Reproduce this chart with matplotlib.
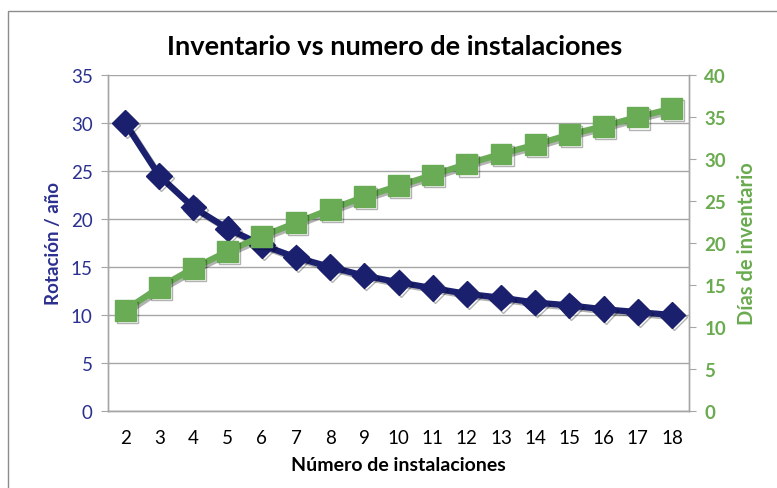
import matplotlib
matplotlib.use("Agg")
import matplotlib.pyplot as plt
import matplotlib.patheffects as pe
from matplotlib.patches import Rectangle

instalaciones = [2, 3, 4, 5, 6, 7, 8, 9, 10, 11, 12, 13, 14, 15, 16, 17, 18]
rotacion = [30.0, 24.5, 21.2, 19.0, 17.3, 16.0, 15.0, 14.1, 13.4, 12.8, 12.2,
            11.8, 11.3, 11.0, 10.6, 10.3, 10.0]
dias = [12.0, 14.7, 17.0, 19.0, 20.8, 22.4, 24.0, 25.5, 26.8, 28.1, 29.4,
        30.6, 31.7, 32.9, 33.9, 35.0, 36.0]
left_ticks = [0, 5, 10, 15, 20, 25, 30, 35]
right_ticks = [0, 5, 10, 15, 20, 25, 30, 35, 40]

plt.rcParams['font.family'] = ['Lato', 'DejaVu Sans']

W, H = 777, 489
fig = plt.figure(figsize=(W / 100, H / 100), dpi=100)
fig.patch.set_facecolor('white')

# outer chart frame
fig.patches.append(Rectangle((8 / W, -0.1), 1.2, (H - 12) / H + 0.1,
                             transform=fig.transFigure, fill=False,
                             edgecolor='#8C8C8C', linewidth=1.0))

ax = fig.add_axes([108 / W, 1 - 412 / H, (689 - 108) / W, (412 - 76) / H])
ax2 = ax.twinx()

navy = '#1A1F6E'
navy_txt = '#2B3090'
green = '#6AAB55'
green_txt = '#6AAB4F'
grid = '#A6A6A6'

shadow = [pe.SimpleLineShadow(offset=(1.5, -1.5), shadow_color='black', alpha=0.3), pe.Normal()]

ax.plot(instalaciones, rotacion, color=navy, linewidth=4.5, marker='D',
        markersize=13, markeredgecolor=navy, path_effects=shadow, zorder=3)
ax2.plot(instalaciones, dias, color=green, linewidth=4.5, marker='s',
         markersize=15, markeredgecolor=green, path_effects=shadow, zorder=3)

ax.set_xlim(1.5, 18.5)
ax.set_ylim(0, 35)
ax2.set_ylim(0, 40)
ax.set_xticks(instalaciones)
ax.set_xticklabels([str(v) for v in instalaciones])
ax.set_yticks(left_ticks)
ax2.set_yticks(right_ticks)

ax.yaxis.grid(True, color=grid, linewidth=1.0)
ax.set_axisbelow(True)

for a in (ax, ax2):
    a.spines['top'].set_visible(False)
    for s in ('left', 'bottom', 'right'):
        a.spines[s].set_color(grid)
        a.spines[s].set_linewidth(1.0)

ax.tick_params(axis='x', length=0, pad=13, labelsize=13.5, labelcolor='black')
ax.tick_params(axis='y', length=5, color=grid, direction='out', pad=6,
               labelsize=13.5, labelcolor=navy_txt)
ax2.tick_params(axis='y', length=5, color=grid, direction='out', pad=6,
                labelsize=13.5, labelcolor=green_txt)
for lbl in ax2.get_yticklabels():
    lbl.set_fontweight('bold')

ax.set_xlabel('Número de instalaciones', fontsize=14, fontweight='bold',
              color='black', labelpad=7)
ax.set_ylabel('Rotación / año', fontsize=13.5, fontweight='bold',
              color=navy_txt, labelpad=6)
ax2.set_ylabel('Días de inventario', fontsize=14.5, fontweight='bold',
               color=green_txt, labelpad=8)

fig.text(395 / W, 1 - 47 / H, 'Inventario vs numero de instalaciones',
         ha='center', va='center', fontsize=19.5, fontweight='bold', color='black')

fig.savefig('out.png', dpi=100, facecolor='white')
